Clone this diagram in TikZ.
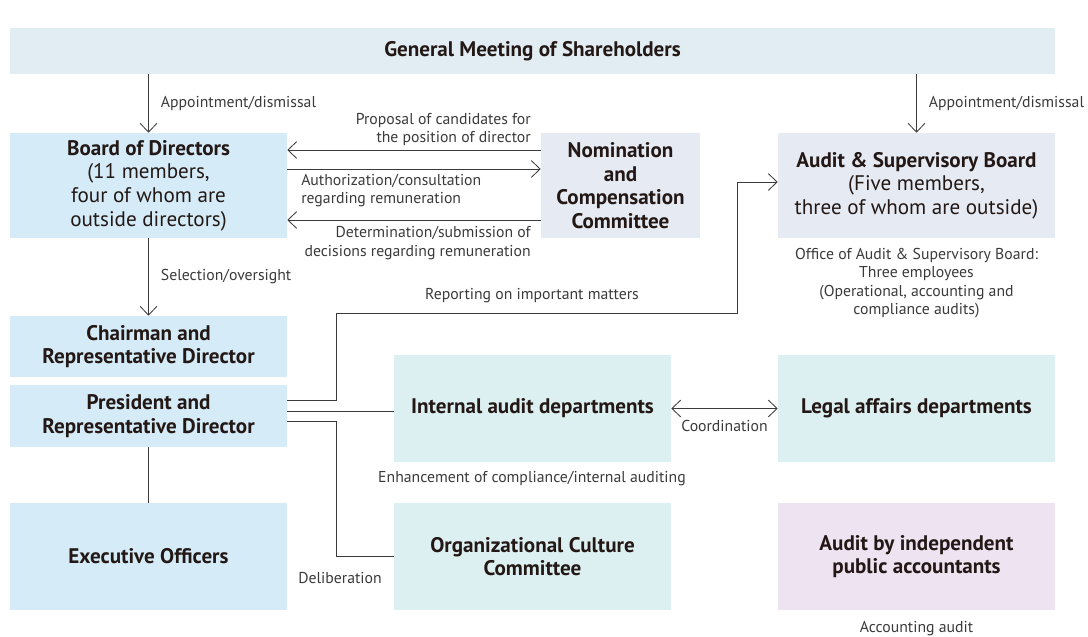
\documentclass[tikz,border=0pt]{standalone}
\usepackage{fontspec}
\setmainfont{PT Sans}
\usetikzlibrary{arrows.meta}

\definecolor{meetblue}{HTML}{E1EDF3}
\definecolor{execblue}{HTML}{D5ECF8}
\definecolor{boardgray}{HTML}{E6EBF3}
\definecolor{deptteal}{HTML}{DDF0F1}
\definecolor{extlilac}{HTML}{EEE3F1}
\definecolor{inkgray}{HTML}{3A3A3A}
\definecolor{inkdark}{HTML}{231815}

\newcommand{\regline}[1]{{\mdseries\fontsize{15}{16.8}\selectfont #1}}

\tikzset{
  orgbox/.style={rectangle, fill=#1, inner sep=0pt, align=center, text=inkdark,
    font=\fontsize{15}{16.8}\selectfont\bfseries},
  boxsize/.style 2 args={minimum width=#1*0.025cm, minimum height=#2*0.025cm},
  note/.style={font=\fontsize{11.2}{13}\selectfont, text=inkgray, inner sep=0pt},
  link/.style={draw=inkgray, line width=0.6pt},
}

\begin{document}
\begin{tikzpicture}[x=0.025cm,y=-0.025cm,>={Straight Barb[length=2.2mm,width=4.2mm]}]
\useasboundingbox (0,0) rectangle (1088,637);

% boxes
\node[orgbox=meetblue, boxsize={1045}{46}] (gms) at (532.5,51) {General Meeting of Shareholders};
\node[orgbox=execblue, boxsize={277}{105}] (board) at (148.5,185.5)
  {Board of Directors\\\regline{(11 members,}\\\regline{four of whom are}\\\regline{outside directors)}};
\node[orgbox=boardgray, boxsize={159}{105}] (nom) at (620.5,185.5) {Nomination\\and\\Compensation\\Committee};
\node[orgbox=boardgray, boxsize={277}{105}] (asb) at (916.5,185.5)
  {Audit \& Supervisory Board\\\regline{(Five members,}\\\regline{three of whom are outside)}};
\node[orgbox=execblue, boxsize={277}{61}] (chair) at (148.5,346.5) {Chairman and\\Representative Director};
\node[orgbox=execblue, boxsize={277}{62}] (pres) at (148.5,416) {President and\\Representative Director};
\node[orgbox=deptteal, boxsize={277}{107}] (iad) at (532.5,408.5) {Internal audit departments};
\node[orgbox=deptteal, boxsize={277}{107}] (lad) at (916.5,408.5) {Legal affairs departments};
\node[orgbox=execblue, boxsize={277}{107}] (exec) at (148.5,556.5) {Executive Officers};
\node[orgbox=deptteal, boxsize={277}{107}] (occ) at (532.5,556.5) {Organizational Culture\\Committee};
\node[orgbox=extlilac, boxsize={277}{107}] (ind) at (916.5,556.5) {Audit by independent\\public accountants};

% connectors
\draw[link,->] (gms.south -| board.north) -- node[note, right=0.3cm] {Appointment/dismissal} (board.north);
\draw[link,->] (gms.south -| asb.north) -- node[note, right=0.3cm] {Appointment/dismissal} (asb.north);
\draw[link,->] (nom.west |- 0,150) -- (board.east |- 0,150);
\draw[link,->] (board.east |- 0,169) -- (nom.west |- 0,169);
\draw[link,->] (nom.west |- 0,220) -- (board.east |- 0,220);
\draw[link,->] (board.south) -- node[note, right=0.3cm] {Selection/oversight} (chair.north);
\draw[link,->] (pres.east |- 0,400) -| (336,313) -| (737,182) -- (asb.west |- 0,182);
\draw[link] (pres.east |- 0,411) -- (iad.west |- 0,411);
\draw[link] (pres.east |- 0,421) -| (occ.west -| 336,0) -- (occ.west);
\draw[link] (pres.south) -- (exec.north);
\draw[link,<->] (iad.east) -- node[note, below=0.28cm] {Coordination} (lad.west);

% labels
\node[note, anchor=east, align=right] (proposal) at (531,129.5) {Proposal of candidates for\\the position of director};
\node[note, anchor=west, align=left] (consult) at (301,190.5) {Authorization/consultation\\regarding remuneration};
\node[note, anchor=east, align=right] (decide) at (531,243) {Determination/submission of\\decisions regarding remuneration};
\node[note] (report) at (532,296) {Reporting on important matters};
\node[note, align=center] (office) at (916.5,283)
  {Office of Audit \& Supervisory Board:\\Three employees\\(Operational, accounting and\\compliance audits)};
\node[note] (enhance) at (532,479) {Enhancement of compliance/internal auditing};
\node[note] (deliber) at (340,578) {Deliberation};
\node[note] (acct) at (916.5,629) {Accounting audit};
\end{tikzpicture}
\end{document}
